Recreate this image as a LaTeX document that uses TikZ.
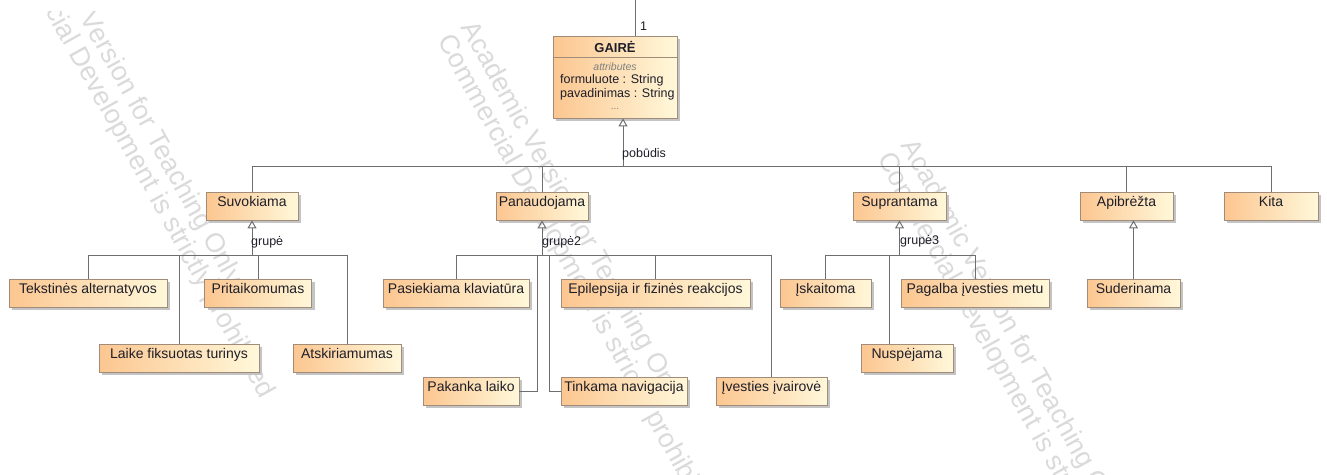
\documentclass[tikz,border=0pt]{standalone}
\usepackage{fontspec}
\setmainfont{Liberation Sans}
\usetikzlibrary{arrows.meta,shadows,calc}

\definecolor{boxL}{HTML}{FCC690}
\definecolor{boxR}{HTML}{FFF8DA}
\definecolor{boxline}{HTML}{A08C78}
\definecolor{wire}{HTML}{6E6E6E}
\definecolor{txt}{HTML}{1E1E28}
\definecolor{shade}{HTML}{C4C4C4}
\definecolor{wmark}{HTML}{DADADA}

\tikzset{
  umlbox/.style={draw=boxline, line width=0.8pt, left color=boxL, right color=boxR,
    inner xsep=0pt, inner ysep=0pt, text height=14pt, text depth=14pt,
    minimum height=28pt, text=txt, font=\fontsize{14}{16}\selectfont,
    drop shadow={shadow xshift=3pt, shadow yshift=-3pt, fill=shade, opacity=1}},
  wire/.style={draw=wire, line width=1pt},
  gen/.style={wire, -{Triangle[open, width=9pt, length=8pt]}},
  lbl/.style={anchor=base west, inner sep=0pt, text=txt, font=\fontsize{12.5}{14}\selectfont},
  wm/.style={anchor=north west, inner sep=0pt, rotate=-61, align=left, text=wmark,
    font=\fontsize{27}{27}\selectfont},
}

\begin{document}
\begin{tikzpicture}[x=1pt, y=-1pt]
\useasboundingbox (0,0) rectangle (1327,474);

% watermark text
\begin{scope}
  \clip (0,11) rectangle (1327,474);
  \node[wm] (wmA) at (36,-102) {Academic Version for Teaching Only\\Commercial Development is strictly prohibited};
  \node[wm] (wmB) at (478,18) {Academic Version for Teaching Only\\Commercial Development is strictly prohibited};
  \node[wm] (wmC) at (918,136) {Academic Version for Teaching Only\\Commercial Development is strictly prohibited};
\end{scope}

% root class
\node[umlbox, minimum width=124pt, minimum height=82pt, text height=0pt, text depth=0pt] (gaire) at (615,77) {};
\draw[boxline, line width=0.8pt] ([yshift=-22pt]gaire.north west) -- ([yshift=-22pt]gaire.north east);
\node[anchor=base, inner sep=0pt, text=txt, font=\bfseries\fontsize{13}{15}\selectfont] (gname) at (615,52) {GAIRĖ};
\node[anchor=base, inner sep=0pt, text=gray, font=\itshape\fontsize{10.5}{12}\selectfont] (gattr) at (615,70) {attributes};
\node[anchor=base west, inner sep=0pt, text=txt, font=\fontsize{12.5}{14}\selectfont] (gf) at (560,83) {formuluote : String};
\node[anchor=base west, inner sep=0pt, text=txt, font=\fontsize{12.5}{14}\selectfont] (gp) at (560,97) {pavadinimas : String};
\node[anchor=base, inner sep=0pt, text=gray, font=\fontsize{10}{12}\selectfont] (gdots) at (615,109) {...};

\coordinate (gtop) at (635,0);
\draw[wire] (gtop) -- (gtop |- gaire.north);
\node[lbl] (mult) at (640,30) {1};

% first level
\node[umlbox, minimum width=92pt] (suvokiama) at (252,206) {Suvokiama};
\node[umlbox, minimum width=92pt] (panaudojama) at (542,206) {Panaudojama};
\node[umlbox, minimum width=93pt] (suprantama) at (899.5,206) {Suprantama};
\node[umlbox, minimum width=93pt] (apibrezta) at (1126.5,206) {Apibrėžta};
\node[umlbox, minimum width=94pt] (kita) at (1271,206) {Kita};

% second level, upper row
\node[umlbox, minimum width=158pt] (tekstines) at (88,293) {Tekstinės alternatyvos};
\node[umlbox, minimum width=107pt] (pritaikomumas) at (258,293) {Pritaikomumas};
\node[umlbox, minimum width=146pt] (pasiekiama) at (456,293) {Pasiekiama klaviatūra};
\node[umlbox, minimum width=189pt] (epilepsija) at (655.5,293) {Epilepsija ir fizinės reakcijos};
\node[umlbox, minimum width=91pt] (iskaitoma) at (825.5,293) {Įskaitoma};
\node[umlbox, minimum width=148pt] (pagalba) at (975,293) {Pagalba įvesties metu};
\node[umlbox, minimum width=93pt] (suderinama) at (1133.5,293) {Suderinama};

% second level, middle row
\node[umlbox, minimum width=160pt] (laike) at (179,358) {Laike fiksuotas turinys};
\node[umlbox, minimum width=108pt] (atskiriamumas) at (347,358) {Atskiriamumas};
\node[umlbox, minimum width=92pt] (nuspejama) at (907,358) {Nuspėjama};

% second level, lower row
\node[umlbox, minimum width=96pt] (pakanka) at (471,391) {Pakanka laiko};
\node[umlbox, minimum width=126pt] (tinkama) at (624,391) {Tinkama navigacija};
\node[umlbox, minimum width=111pt] (ivesties) at (771.5,391) {Įvesties įvairovė};

% generalization set "pobūdis"
\coordinate (pb) at (623,166);
\draw[gen] (pb) -- (pb |- gaire.south);
\foreach \n in {suvokiama,panaudojama,suprantama,apibrezta,kita}
  \draw[wire] (\n.north) |- (pb);
\node[lbl] (lpob) at (622,157) {pobūdis};

% generalization set "grupė"
\path (suvokiama.south) ++(0,35) coordinate (sb);
\draw[gen] (sb) -- (suvokiama.south);
\foreach \n in {tekstines,laike,pritaikomumas,atskiriamumas}
  \draw[wire] (\n.north) |- (sb);
\node[lbl] (lg1) at (251,245) {grupė};

% generalization set "grupė2"
\path (panaudojama.south) ++(0,35) coordinate (pnb);
\draw[gen] (pnb) -- (panaudojama.south);
\foreach \n in {pasiekiama,epilepsija,ivesties}
  \draw[wire] (\n.north) |- (pnb);
\draw[wire] (pakanka.east) -| ([xshift=-5pt]pnb) -- (pnb);
\draw[wire] (tinkama.west) -| ([xshift=7pt]pnb) -- (pnb);
\node[lbl] (lg2) at (542,245) {grupė2};

% generalization set "grupė3"
\path (suprantama.south) ++(0,35) coordinate (spb);
\draw[gen] (spb) -- (suprantama.south);
\foreach \n in {iskaitoma,pagalba}
  \draw[wire] (\n.north) |- (spb);
\draw[wire] ([xshift=-18pt]nuspejama.north) |- (spb);
\node[lbl] (lg3) at (900,244) {grupė3};

% single generalization
\draw[gen] (suderinama.north) -- (suderinama.north |- apibrezta.south);
\end{tikzpicture}
\end{document}
